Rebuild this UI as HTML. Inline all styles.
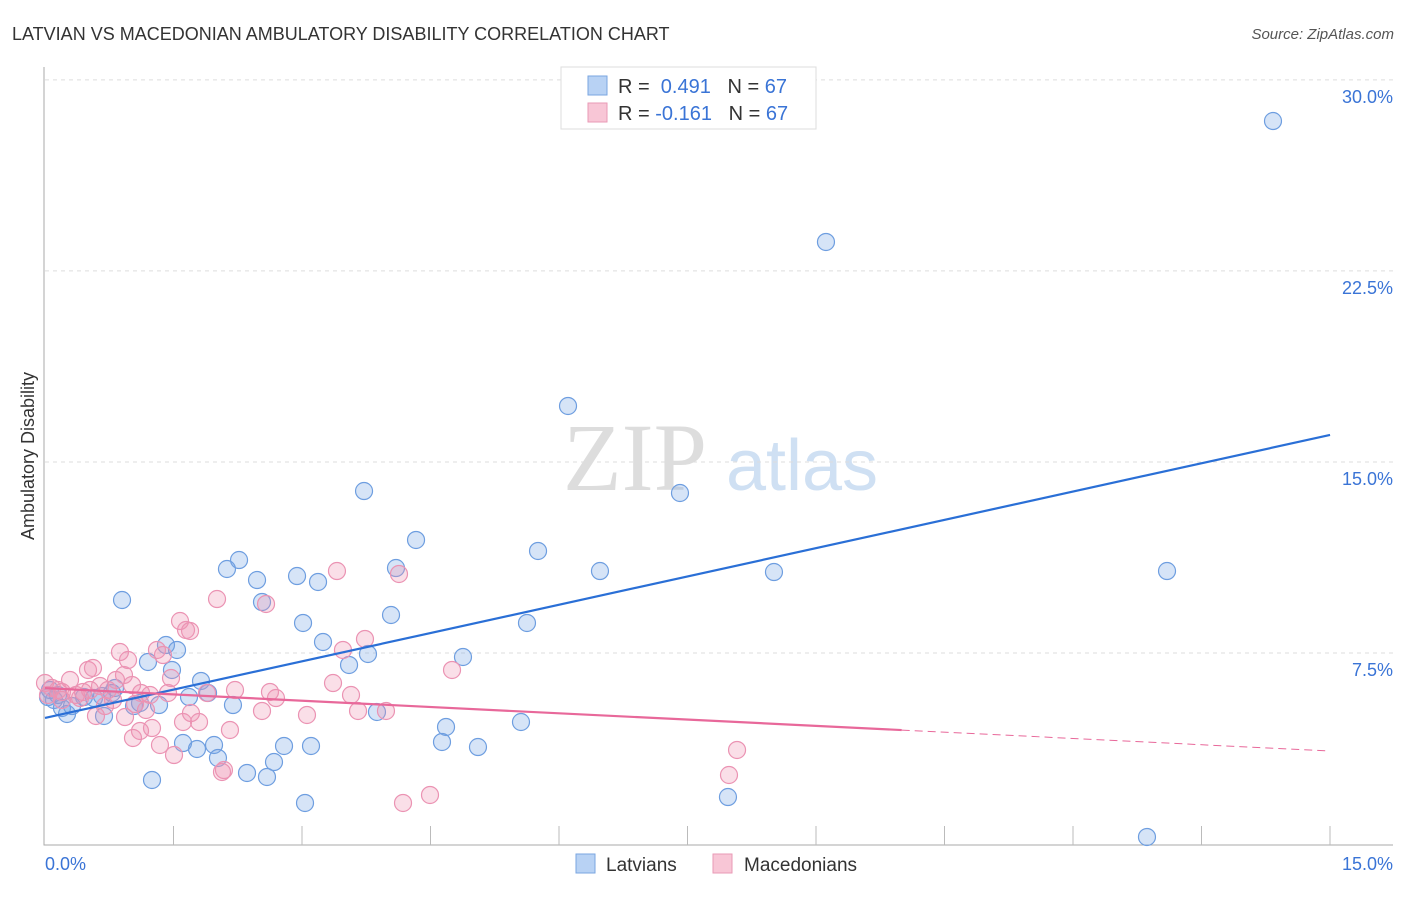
<!DOCTYPE html>
<html><head><meta charset="utf-8"><style>
body{margin:0;background:#fff;font-family:"Liberation Sans",sans-serif}
</style></head><body>
<svg id="chart" width="1406" height="892" xmlns="http://www.w3.org/2000/svg">
<text x="12" y="40" font-size="18" fill="#333">LATVIAN VS MACEDONIAN AMBULATORY DISABILITY CORRELATION CHART</text>
<text x="1394" y="39" font-size="15" fill="#555" text-anchor="end" font-style="italic">Source: ZipAtlas.com</text>
<text transform="translate(34,456) rotate(-90)" font-size="18" fill="#333" text-anchor="middle">Ambulatory Disability</text>
<g>
<text x="635" y="490" font-size="96" fill="#ddd" text-anchor="middle" font-family="Liberation Serif,serif">ZIP</text>
<text x="802" y="490" font-size="72" fill="#cfe0f3" text-anchor="middle">atlas</text>
</g>
<g id="grid"></g><g id="axes"></g><g id="pts"></g><g id="lines"></g>
<g>
<rect x="561" y="67" width="255" height="62" fill="#fff" stroke="#ddd"/>
<rect x="588" y="76" width="19" height="19" fill="#b8d2f4" stroke="#7aa6e0"/>
<text x="618" y="93" font-size="20" fill="#333">R = <tspan fill="#3a74d6">&#160;0.491</tspan>&#160;&#160;&#160;N = <tspan fill="#3a74d6">67</tspan></text>
<rect x="588" y="103" width="19" height="19" fill="#f8c6d6" stroke="#e99ab6"/>
<text x="618" y="120" font-size="20" fill="#333">R = <tspan fill="#3a74d6">-0.161</tspan>&#160;&#160;&#160;N = <tspan fill="#3a74d6">67</tspan></text>
</g>
<g>
<rect x="576" y="854" width="19" height="19" fill="#b8d2f4" stroke="#7aa6e0"/>
<text x="606" y="871" font-size="19" fill="#333">Latvians</text>
<rect x="713" y="854" width="19" height="19" fill="#f8c6d6" stroke="#e99ab6"/>
<text x="744" y="871" font-size="19" fill="#333">Macedonians</text>
</g>
</svg>
<script>
const yTicks=[7.5,15,22.5,30];
const yTickLabels=["7.5%","15.0%","22.5%","30.0%"];
const xTickLabels=["0.0%","15.0%"];
const bluePx=[[1273,121],[826,242],[568,406],[364,491],[680,493],[416,540],[538,551],[239,560],[227,569],[297,576],[318,582],[396,568],[600,571],[774,572],[1167,571],[257,580],[122,600],[262,602],[391,615],[303,623],[527,623],[323,642],[166,645],[177,650],[368,654],[148,662],[349,665],[463,657],[172,670],[201,681],[115,688],[208,693],[189,697],[233,705],[159,705],[134,706],[94,698],[54,700],[62,708],[67,714],[104,716],[102,696],[84,697],[72,706],[446,727],[521,722],[377,712],[183,743],[197,749],[214,745],[284,746],[311,746],[442,742],[478,747],[218,758],[274,762],[247,773],[267,777],[152,780],[305,803],[728,797],[1147,837],[50,690],[48,697],[140,703],[112,693],[58,695]];
const pinkPx=[[45,683],[52,688],[58,690],[48,695],[62,692],[70,680],[76,695],[83,692],[88,670],[93,668],[100,686],[108,690],[113,700],[120,652],[124,675],[128,660],[132,685],[135,704],[141,693],[146,710],[150,695],[157,650],[163,655],[171,678],[168,693],[180,621],[186,630],[190,631],[183,722],[191,713],[199,722],[207,693],[217,599],[224,770],[222,772],[230,730],[235,690],[262,711],[266,604],[270,692],[276,698],[307,715],[333,683],[337,571],[343,650],[351,695],[358,711],[365,639],[386,711],[399,574],[403,803],[430,795],[452,670],[737,750],[729,775],[125,717],[133,738],[160,745],[174,755],[140,731],[152,728],[96,716],[105,706],[116,680],[62,700],[80,698],[90,690]];
// convert reading to data values
const latviansX=bluePx.map(p=>+((p[0]-45)/85.67).toFixed(3));
const latviansY=bluePx.map(p=>+((844-p[1])/25.47).toFixed(3));
const macedoniansX=pinkPx.map(p=>+((p[0]-45)/85.67).toFixed(3));
const macedoniansY=pinkPx.map(p=>+((844-p[1])/25.47).toFixed(3));
const blueTrend=[4.95,16.06];
const pinkTrend=[6.12,3.65];
const pinkSolidEnd=10.0;
const X=v=>45+v*85.67, Y=v=>844-v*25.47;
const NS="http://www.w3.org/2000/svg";
function mk(g,t,a){const e=document.createElementNS(NS,t);for(const k in a)e.setAttribute(k,a[k]);document.getElementById(g).appendChild(e);return e;}
yTicks.forEach((t,i)=>{
 const l=mk('grid','line',{x1:45,x2:1393,y1:Y(t),y2:Y(t),stroke:'#ddd','stroke-dasharray':'4,4'});
 
 
 const tx=mk('grid','text',{x:1393,y:Y(t)+23,'font-size':18,fill:'#3a74d6','text-anchor':'end'});
 tx.textContent=yTickLabels[i];
 
 
});
const ax=mk('axes','path',{d:'M44,67V845H1393',stroke:'#aaa',fill:'none'});


for(let i=1;i<=10;i++){const t=mk('axes','line',{x1:45+i*128.5,x2:45+i*128.5,y1:826,y2:845,stroke:'#bbb'});
 
 }
[[45,'start'],[1393,'end']].forEach((p,i)=>{const t=mk('axes','text',{x:p[0],y:870,'font-size':18,fill:'#3a74d6','text-anchor':p[1]});t.textContent=xTickLabels[i];
 
 });
latviansX.forEach((x,i)=>{const c=mk('pts','circle',{cx:X(x),cy:Y(latviansY[i]),r:8.5,fill:'rgba(120,165,230,0.3)',stroke:'#6e9ee0','stroke-width':1.2});
 
 });
macedoniansX.forEach((x,i)=>{const c=mk('pts','circle',{cx:X(x),cy:Y(macedoniansY[i]),r:8.5,fill:'rgba(240,150,180,0.3)',stroke:'#eb93b3','stroke-width':1.2});
 
 });
const bl=mk('lines','line',{x1:X(0),y1:Y(blueTrend[0]),x2:X(15),y2:Y(blueTrend[1]),stroke:'#2a6fd6','stroke-width':2.2});


const pm=pinkTrend[0]+(pinkTrend[1]-pinkTrend[0])*pinkSolidEnd/15;
const pl=mk('lines','line',{x1:X(0),y1:Y(pinkTrend[0]),x2:X(pinkSolidEnd),y2:Y(pm),stroke:'#e8689a','stroke-width':2.2});


const pd=mk('lines','line',{x1:X(pinkSolidEnd),y1:Y(pm),x2:X(15),y2:Y(pinkTrend[1]),stroke:'#e8689a','stroke-width':1,'stroke-dasharray':'8,5'});


</script>
</body></html>
